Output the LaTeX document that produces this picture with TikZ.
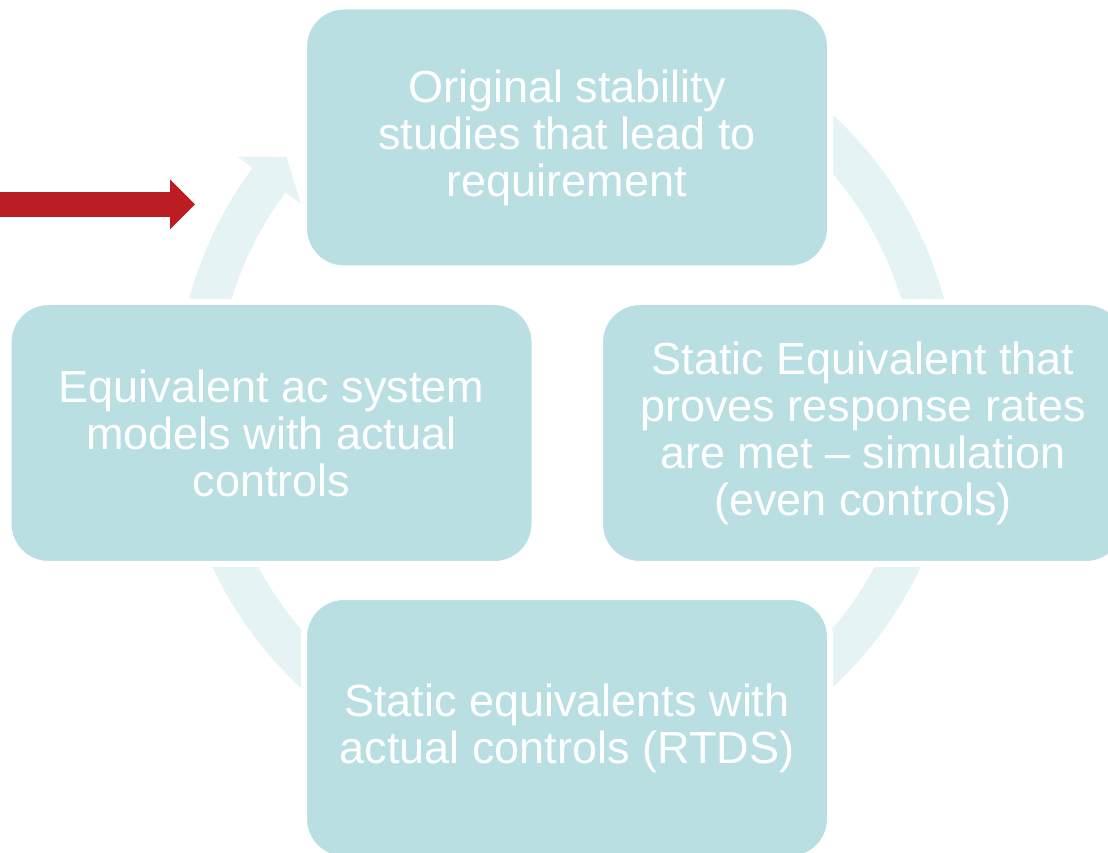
\documentclass[tikz,border=0pt]{standalone}
\usepackage{fontspec}
\setmainfont{Liberation Sans}
\usetikzlibrary{arrows.meta,positioning,calc}
\definecolor{box}{HTML}{B9DFE3}
\definecolor{ring}{HTML}{E6F3F5}
\definecolor{cue}{HTML}{BC1D23}
\tikzset{stage/.style={fill=box,draw=white,line width=6pt,rounded corners=40pt,
 minimum width=526pt,minimum height=262pt,align=center,text=white,
 font=\fontsize{45}{47}\selectfont}}

\begin{document}
\begin{tikzpicture}[x=1pt,y=1pt]
\clip (0,0) rectangle (1108,852);
\coordinate (c) at (566.5,451);
% circular arrow running behind the four stages
\fill[ring] (c) ++(90:391) arc[start angle=90,end angle=-216.6,radius=391]
 -- ($(c)+(143.4:410)$) -- ($(c)+(143.4:370.5)+(53.4:29)$) -- ($(c)+(143.4:331)$)
 -- ($(c)+(143.4:350)$) arc[start angle=143.4,end angle=450,radius=350] -- cycle;
\node[stage] (orig) at (567,714.5) {Original stability\\studies that lead to\\requirement};
\node[stage] (stat) at (863,419) {Static Equivalent that\\proves response rates\\are met -- simulation\\(even controls)};
\node[stage] (rtds) at (567,124) {Static equivalents with\\actual controls (RTDS)};
\node[stage] (equiv) at (271.5,419) {Equivalent ac system\\models with actual\\controls};
% entry marker
\coordinate (src) at (0,647.5);
\coordinate (cuetip) at (195,647.5);
\draw[cue,line width=25pt,-{Triangle[length=25pt,width=50pt,line width=0pt]}] (src) -- (cuetip);
\end{tikzpicture}
\end{document}
